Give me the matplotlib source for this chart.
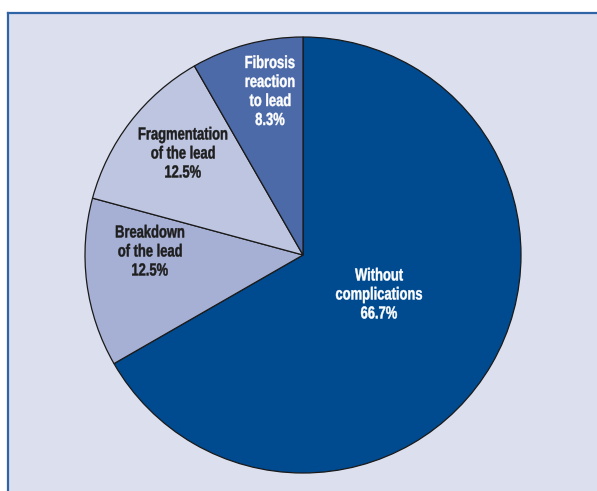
import matplotlib.pyplot as plt
from matplotlib.patches import Rectangle, PathPatch
from matplotlib.textpath import TextPath
from matplotlib.font_manager import FontProperties
from matplotlib.transforms import Affine2D

# slice data, clockwise from 12 o'clock
labels = ["Without\ncomplications", "Breakdown\nof the lead", "Fragmentation\nof the lead", "Fibrosis\nreaction\nto lead"]
values = [66.7, 12.5, 12.5, 8.3]
colors = ["#004a8f", "#a6b0d4", "#bec5e0", "#4c69a8"]
text_colors = ["white", "#1e1e1e", "#1e1e1e", "white"]
# label anchors in pixel space (x from left, y from top)
label_x = [379, 150, 183, 270]
label_y = [293, 250, 152, 90]

W, H = 597, 491
fig = plt.figure(figsize=(W / 100, H / 100), dpi=100)
fig.patch.set_facecolor("white")
ax = fig.add_axes([0, 0, 1, 1])

# panel background with blue rule on top and left
ax.add_patch(Rectangle((8, 0), W - 8, H - 13, facecolor="#dcdfee", edgecolor="none", zorder=0))
ax.plot([8, W], [H - 13, H - 13], color="#2f64a6", lw=1.6, zorder=1)
ax.plot([8, 8], [0, H - 13], color="#2f64a6", lw=1.6, zorder=1)

cx, cy, r = 303, H - 255, 218
ax.pie(values, colors=colors, startangle=90, counterclock=False,
       center=(cx, cy), radius=r,
       wedgeprops=dict(edgecolor="#1a1a1a", linewidth=0.9))

# condensed bold lettering: glyph outlines squeezed horizontally
font = FontProperties(family="Liberation Sans", weight="bold")
size_px = 17.5
squeeze = 0.74
line_step = 19


def draw_label(text, x, y_top, color):
    lines = text.split("\n")
    n = len(lines)
    for i, line in enumerate(lines):
        tp = TextPath((0, 0), line, size=size_px, prop=font)
        ext = tp.get_extents()
        mid = y_top + (i - (n - 1) / 2) * line_step
        base = H - (mid + 6.5)
        tr = Affine2D().translate(-(ext.x0 + ext.x1) / 2, 0).scale(squeeze, 1).translate(x, base)
        ax.add_patch(PathPatch(tr.transform_path(tp), facecolor=color,
                               edgecolor=color, linewidth=0.3, zorder=5))


for lab, v, tc, x, y in zip(labels, values, text_colors, label_x, label_y):
    draw_label(f"{lab}\n{v}%", x, y, tc)

ax.set_xlim(0, W)
ax.set_ylim(0, H)
ax.set_aspect("equal")
ax.axis("off")

fig.savefig("out.png", dpi=100)
